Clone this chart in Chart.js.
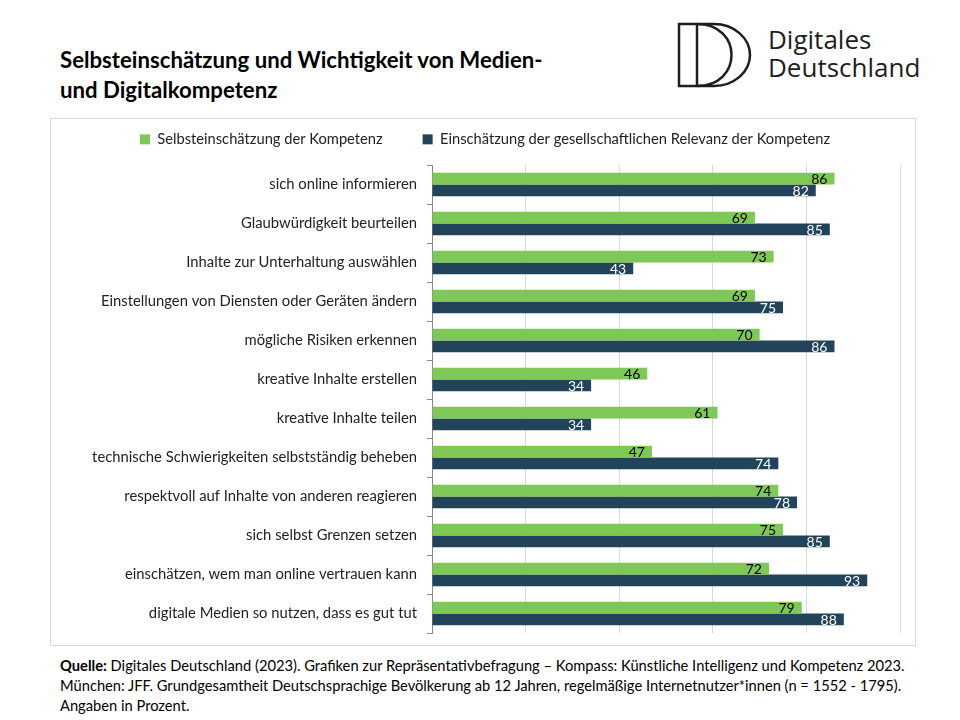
<!DOCTYPE html>
<html><head><meta charset="utf-8">
<script src="https://cdn.jsdelivr.net/npm/chart.js@4"></script>
<style>
html,body{margin:0;padding:0;background:#fff;}
body{width:960px;height:720px;position:relative;overflow:hidden;font-family:Lato,"Liberation Sans",sans-serif;color:#000;}
#title{position:absolute;left:60px;top:45px;font-size:22.2px;font-weight:bold;line-height:30px;white-space:nowrap;}
#logo{position:absolute;left:0;top:0;}
#logotext{position:absolute;left:768px;top:25px;font-family:"Open Sans",sans-serif;font-size:26px;line-height:28px;color:#1e1e1e;white-space:nowrap;}
#frame{position:absolute;left:50px;top:118px;width:864px;height:526px;border:1px solid #d9d9d9;}
#footer{position:absolute;left:60px;top:655px;font-size:14.7px;line-height:20px;color:#000;white-space:nowrap;}
</style></head><body>
<div id="title">Selbsteinschätzung und Wichtigkeit von Medien-<br>und Digitalkompetenz</div>
<svg id="logo" width="960" height="110">
<g fill="none" stroke="#1e1e1e" stroke-width="2.5">
<path d="M679,24 H714 A36,31 0 0 1 714,86 H679 Z"/>
<path d="M697,24 V86"/>
<path d="M697,24 C743,24 743,86 697,86"/>
</g></svg>
<div id="logotext">Digitales<br>Deutschland</div>
<div id="frame"><canvas id="c"></canvas></div>
<div id="footer"><b>Quelle:</b> Digitales Deutschland (2023). Grafiken zur Repräsentativbefragung – Kompass: Künstliche Intelligenz und Kompetenz 2023.<br>München: JFF. Grundgesamtheit Deutschsprachige Bevölkerung ab 12 Jahren, regelmäßige Internetnutzer*innen (n = 1552 - 1795).<br>Angaben in Prozent.</div>
<script>
const categories = [
  "sich online informieren",
  "Glaubwürdigkeit beurteilen",
  "Inhalte zur Unterhaltung auswählen",
  "Einstellungen von Diensten oder Geräten ändern",
  "mögliche Risiken erkennen",
  "kreative Inhalte erstellen",
  "kreative Inhalte teilen",
  "technische Schwierigkeiten selbstständig beheben",
  "respektvoll auf Inhalte von anderen reagieren",
  "sich selbst Grenzen setzen",
  "einschätzen, wem man online vertrauen kann",
  "digitale Medien so nutzen, dass es gut tut"
];
const seriesNames = ["Selbsteinschätzung der Kompetenz", "Einschätzung der gesellschaftlichen Relevanz der Kompetenz"];
const selbst = [86, 69, 73, 69, 70, 46, 61, 47, 74, 75, 72, 79];
const relevanz = [82, 85, 43, 75, 86, 34, 34, 74, 78, 85, 93, 88];

const FONT = 'Lato, "Liberation Sans", sans-serif';
const LEG_PAD = 40;       // horizontal spacing between legend items
const PAD_TOP = -27;      // so the legend row sits near the frame top
const PLOT_TOP = 46;      // plot area top inside the frame
const PAD_LEFT = 19;

const labelPlugin = {
  id: 'barLabels',
  afterDatasetsDraw(chart) {
    const ctx = chart.ctx;
    ctx.save();
    ctx.font = '14px ' + FONT;
    ctx.textAlign = 'right';
    ctx.textBaseline = 'middle';
    chart.data.datasets.forEach((ds, di) => {
      const meta = chart.getDatasetMeta(di);
      ctx.fillStyle = di === 0 ? '#000' : '#fff';
      meta.data.forEach((bar, i) => {
        ctx.fillText(String(ds.data[i]), bar.x - 7, bar.y + 1);
      });
    });
    ctx.restore();
  }
};

const legendFitPlugin = {
  id: 'legendFit',
  beforeInit(chart) {
    const lg = chart.legend;
    if (!lg) return;
    const orig = lg.fit;
    lg.fit = function () {
      orig.call(this);
      this.height = PLOT_TOP - PAD_TOP;
    };
  }
};

new Chart(document.getElementById('c'), {
  type: 'bar',
  data: {
    labels: categories,
    datasets: [
      { label: seriesNames[0], data: selbst, backgroundColor: '#7ec855', barPercentage: 1, categoryPercentage: 0.6 },
      { label: seriesNames[1], data: relevanz, backgroundColor: '#22445a', barPercentage: 1, categoryPercentage: 0.6 }
    ]
  },
  options: {
    indexAxis: 'y',
    responsive: true,
    maintainAspectRatio: false,
    animation: false,
    layout: { padding: { left: PAD_LEFT, right: 15, top: PAD_TOP, bottom: 12 } },
    plugins: {
      legend: {
        display: true,
        position: 'top',
        labels: { boxWidth: 10, boxHeight: 10, color: '#222', padding: LEG_PAD,
          font: { size: 14.7, family: FONT } }
      },
      tooltip: { enabled: false }
    },
    scales: {
      x: {
        min: 0, max: 100,
        ticks: { stepSize: 20, display: false },
        grid: { color: '#d9d9d9', drawTicks: false },
        border: { display: false }
      },
      y: {
        afterFit(scale) { scale.width = 381 - PAD_LEFT; scale.paddingTop = 0; scale.paddingBottom = 0; },
        ticks: { color: '#222', padding: 10, font: { size: 14.8, family: FONT } },
        grid: { drawOnChartArea: false, tickLength: 5, color: '#888' },
        border: { color: '#888' }
      }
    }
  },
  plugins: [labelPlugin, legendFitPlugin]
});
</script>
</body></html>
